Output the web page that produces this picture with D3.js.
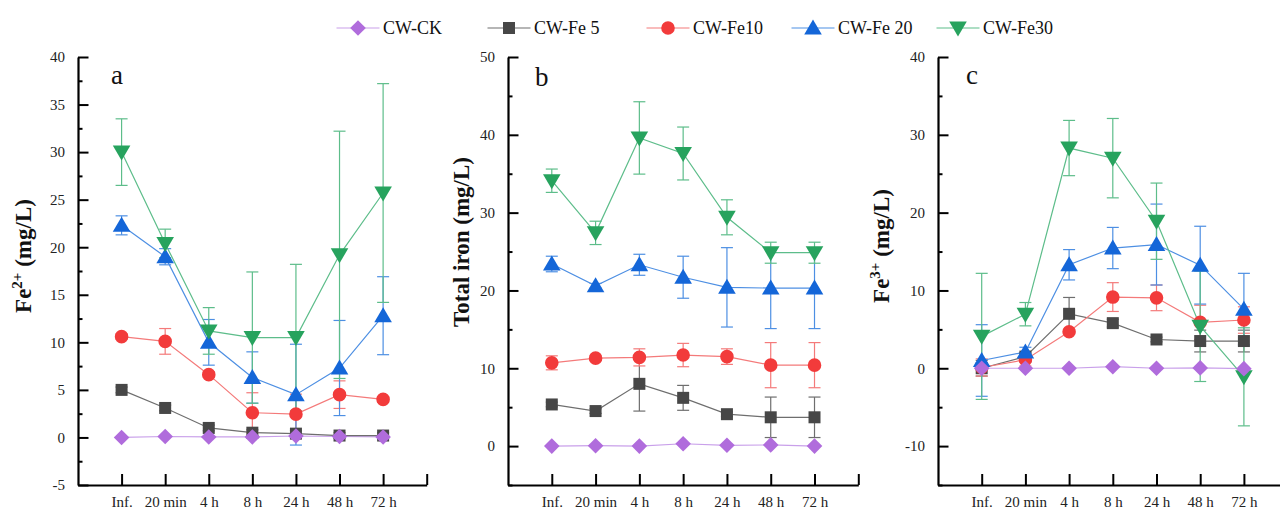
<!DOCTYPE html>
<html><head><meta charset="utf-8">
<script src="https://cdn.jsdelivr.net/npm/d3@7"></script>
<style>body{margin:0;background:#fff}svg{display:block}</style>
</head><body>
<script>
// ---------- data ----------
const categories = ["Inf.", "20 min", "4 h", "8 h", "24 h", "48 h", "72 h"];
const seriesNames = ["CW-CK", "CW-Fe 5", "CW-Fe10", "CW-Fe 20", "CW-Fe30"];

// Panel a: Fe2+ (mg/L) — rows: CK, Fe5, Fe10, Fe20, Fe30
const fe2Means = [
  [0, 0.1, 0.05, 0.05, 0.15, 0.1, 0.05],
  [5.0, 3.1, 1.0, 0.5, 0.4, 0.2, 0.2],
  [10.6, 10.1, 6.6, 2.6, 2.45, 4.5, 4.0],
  [22.3, 19.0, 10.0, 6.3, 4.5, 7.3, 12.8],
  [30.0, 20.4, 11.2, 10.5, 10.5, 19.2, 25.7]
];
const fe2Errs = [
  [0, 0, 0, 0, 0, 0, 0],
  [0.3, 0.3, 0.3, 0.3, 0.3, 0.3, 0.3],
  [0.3, 1.35, 0.3, 2.1, 2.1, 1.45, 0.3],
  [1.0, 0.85, 2.4, 2.7, 5.3, 5.0, 4.1],
  [3.5, 1.5, 2.45, 6.9, 7.7, 13.0, 11.5]
];
const fe2Ticks = [-5, 0, 5, 10, 15, 20, 25, 30, 35, 40];

// Panel b: Total iron (mg/L)
const totalMeans = [
  [0, 0.05, 0, 0.3, 0.1, 0.15, 0],
  [5.35, 4.5, 8.0, 6.2, 4.1, 3.7, 3.7],
  [10.7, 11.3, 11.4, 11.7, 11.5, 10.4, 10.4],
  [23.4, 20.6, 23.3, 21.7, 20.4, 20.3, 20.3],
  [34.1, 27.4, 39.6, 37.6, 29.4, 24.85, 24.85]
];
const totalErrs = [
  [0, 0, 0, 0, 0, 0, 0],
  [0.3, 0.3, 3.5, 1.6, 0.3, 2.6, 2.6],
  [0.9, 0.3, 1.1, 1.5, 1.0, 2.9, 2.9],
  [1.0, 0.3, 1.35, 2.7, 5.1, 5.2, 5.2],
  [1.5, 1.5, 4.65, 3.4, 2.25, 1.35, 1.35]
];
const totalTicks = [0, 10, 20, 30, 40, 50];

// Panel c: Fe3+ (mg/L)
const fe3Means = [
  [0, 0, 0, 0.2, 0, 0.05, -0.05],
  [0.0, 1.5, 7.0, 5.8, 3.7, 3.5, 3.5],
  [0.1, 1.1, 4.7, 9.15, 9.05, 5.9, 6.2],
  [1.0, 2.1, 13.3, 15.45, 15.9, 13.25, 7.6],
  [4.1, 6.95, 28.3, 27.0, 18.9, 5.4, -1.1]
];
const fe3Errs = [
  [0, 0, 0, 0, 0, 0, 0],
  [1.0, 0.5, 2.1, 0.5, 0.3, 1.4, 1.4],
  [1.1, 0.8, 0.3, 1.85, 1.65, 2.2, 1.7],
  [4.6, 0.6, 1.95, 2.65, 5.2, 5.0, 4.6],
  [8.1, 1.5, 3.55, 5.1, 4.9, 7.1, 6.3]
];
const fe3Ticks = [-10, 0, 10, 20, 30, 40];

// ---------- styles ----------
const markerColors = ["#b06cdc", "#474747", "#f23b3b", "#1466d8", "#27a35e"];
const lineColors   = ["#c9a0ea", "#6e6e6e", "#f47a7a", "#4d8fe3", "#5dbd8a"];
const shapes = ["diamond", "square", "circle", "triUp", "triDown"];
const FONT = "Liberation Serif";

function shapePath(s) {
  switch (s) {
    case "diamond": return "M0,-7.8L7.8,0L0,7.8L-7.8,0Z";
    case "square": return "M-6,-6H6V6H-6Z";
    case "circle": return "M6.8,0A6.8,6.8 0 1,1 -6.8,0A6.8,6.8 0 1,1 6.8,0Z";
    case "triUp": return "M0,-8.5L8.8,6.5L-8.8,6.5Z";
    case "triDown": return "M0,8.5L8.8,-6.5L-8.8,-6.5Z";
  }
}

const svg = d3.select("body").append("svg").attr("width", 1280).attr("height", 512);
svg.append("rect").attr("width", 1280).attr("height", 512).attr("fill", "#fff");

const panels = [
  { means: fe2Means, errs: fe2Errs, ticks: fe2Ticks, ydom: [-5, 40], minorStep: 2.5,
    xr: [78, 426.7], letter: "a", lx: 111, ly: 84,
    title: ["Fe", "2+", " (mg/L)"], tx: 31, ty: 256 },
  { means: totalMeans, errs: totalErrs, ticks: totalTicks, ydom: [-5, 50], minorStep: 5,
    xr: [508, 858.3], letter: "b", lx: 535, ly: 86,
    title: ["Total iron (mg/L)"], tx: 469, ty: 242 },
  { means: fe3Means, errs: fe3Errs, ticks: fe3Ticks, ydom: [-15, 40], minorStep: 5,
    xr: [938, 1287.6], letter: "c", lx: 966, ly: 84,
    title: ["Fe", "3+", " (mg/L)"], tx: 889, ty: 246 }
];

const yTop = 57, yBot = 485;

panels.forEach(p => {
  const x = d3.scaleLinear().domain([0, 8]).range(p.xr);
  const y = d3.scaleLinear().domain(p.ydom).range([yBot, yTop]);
  const g = svg.append("g");

  // minor y ticks
  const minors = d3.range(p.ydom[0], p.ydom[1] + 0.001, p.minorStep).filter(v => !p.ticks.includes(v));
  g.append("g").attr("transform", `translate(${p.xr[0]},0)`)
    .call(d3.axisLeft(y).tickValues(minors).tickSizeInner(-4.5).tickSizeOuter(0).tickFormat(""))
    .call(a => a.select(".domain").remove())
    .call(a => a.selectAll("line").attr("stroke", "#000").attr("stroke-width", 2));

  // major y axis
  g.append("g").attr("transform", `translate(${p.xr[0]},0)`)
    .call(d3.axisLeft(y).tickValues(p.ticks).tickSizeInner(-10.5).tickSizeOuter(0).tickPadding(13).tickFormat(d => String(d)))
    .call(a => a.select(".domain").attr("stroke", "#000").attr("stroke-width", 2.2))
    .call(a => a.selectAll("line").attr("stroke", "#000").attr("stroke-width", 2))
    .call(a => a.selectAll("text").attr("font-family", FONT).attr("font-size", 15).attr("fill", "#222"));

  // x axis
  g.append("g").attr("transform", `translate(0,${yBot})`)
    .call(d3.axisBottom(x).tickValues([1, 2, 3, 4, 5, 6, 7, 8]).tickSizeInner(-11).tickSizeOuter(0).tickPadding(11)
      .tickFormat(i => categories[i - 1] || ""))
    .call(a => a.select(".domain").attr("stroke", "#000").attr("stroke-width", 2.2))
    .call(a => a.selectAll("line").attr("stroke", "#000").attr("stroke-width", 2))
    .call(a => a.selectAll("text").attr("font-family", FONT).attr("font-size", 15).attr("fill", "#222"));

  // series: lines & error bars first
  p.means.forEach((vals, si) => {
    const line = d3.line().x((d, i) => x(i + 1)).y(d => y(d));
    g.append("path").attr("d", line(vals)).attr("fill", "none")
      .attr("stroke", lineColors[si]).attr("stroke-width", 1.2);
    vals.forEach((v, i) => {
      const e = p.errs[si][i];
      if (!e) return;
      const cx = x(i + 1);
      const eg = g.append("g").attr("stroke", lineColors[si]).attr("stroke-width", 1.2);
      eg.append("line").attr("x1", cx).attr("x2", cx).attr("y1", y(v - e)).attr("y2", y(v + e));
      [v - e, v + e].forEach(t => eg.append("line").attr("x1", cx - 6).attr("x2", cx + 6).attr("y1", y(t)).attr("y2", y(t)));
    });
  });
  // markers (CK drawn last on top)
  [1, 2, 3, 4, 0].forEach(si => {
    p.means[si].forEach((v, i) => {
      g.append("path").attr("d", shapePath(shapes[si]))
        .attr("transform", `translate(${x(i + 1)},${y(v)})`)
        .attr("fill", markerColors[si]);
    });
  });

  // panel letter
  g.append("text").attr("x", p.lx).attr("y", p.ly).text(p.letter)
    .attr("font-family", FONT).attr("font-size", 27).attr("fill", "#111");

  // y title
  const t = g.append("text").attr("transform", `translate(${p.tx},${p.ty}) rotate(-90)`)
    .attr("text-anchor", "middle").attr("font-family", FONT).attr("font-weight", "bold")
    .attr("font-size", 23).attr("fill", "#111");
  if (p.title.length === 1) {
    t.text(p.title[0]);
  } else {
    t.append("tspan").text(p.title[0]);
    t.append("tspan").text(p.title[1]).attr("font-size", 15).attr("dy", -9);
    t.append("tspan").text(p.title[2]).attr("dy", 9);
  }
});

// legend
const legendX = [358, 509, 668, 813, 958];
const legendY = 28;
seriesNames.forEach((name, si) => {
  const lg = svg.append("g").attr("transform", `translate(${legendX[si]},${legendY})`);
  lg.append("line").attr("x1", -21.5).attr("x2", 21.5).attr("stroke", lineColors[si]).attr("stroke-width", 1.2);
  lg.append("path").attr("d", shapePath(shapes[si])).attr("fill", markerColors[si]);
  lg.append("text").attr("x", 25).attr("dy", "0.35em").text(name)
    .attr("font-family", FONT).attr("font-size", 18).attr("fill", "#111");
});
</script>
</body></html>
